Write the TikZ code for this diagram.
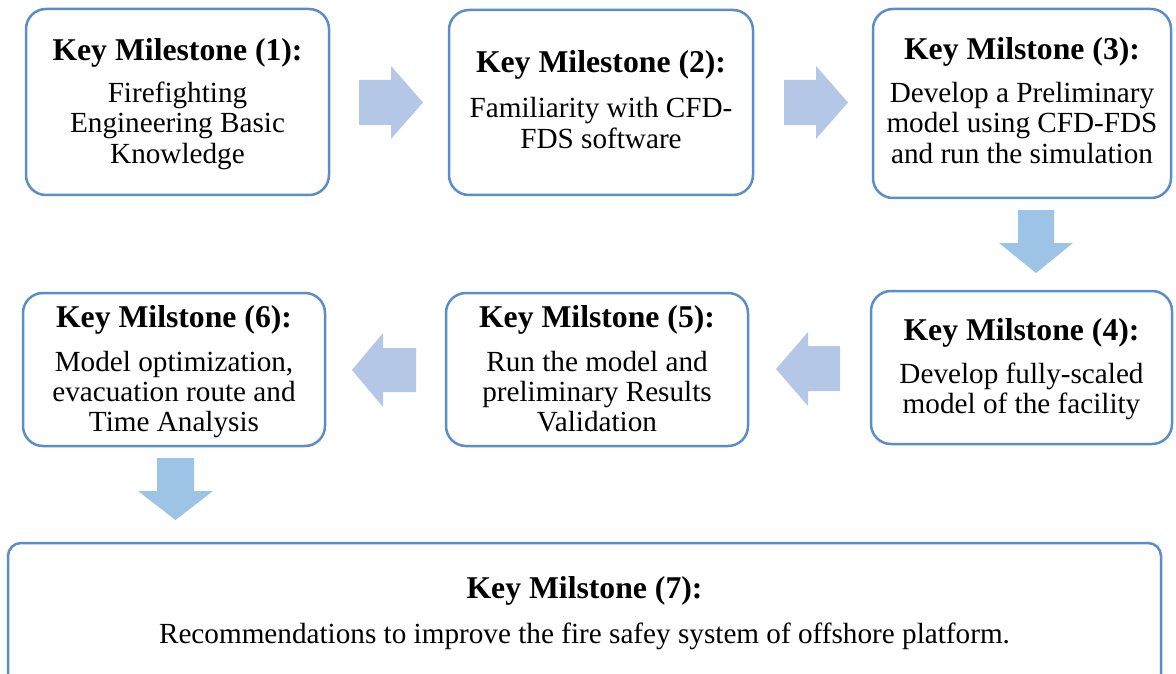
\documentclass[tikz,border=0pt]{standalone}
\usepackage{fontspec}
\setmainfont{Liberation Serif}
\definecolor{boxline}{HTML}{5B8EC9}
\definecolor{harrow}{HTML}{B4C7E7}
\definecolor{varrow}{HTML}{9DC3E6}
\newcommand{\ttl}{\fontsize{31.7}{34}\selectfont\bfseries}
\newcommand{\bdy}{\fontsize{29.2}{31}\selectfont}
\begin{document}
\begin{tikzpicture}[x=1pt,y=-1pt,
  mbox/.style={draw=boxline,line width=2.5pt,rounded corners=20pt,fill=white},
  bigbox/.style={draw=boxline,line width=2.5pt,rounded corners=13pt,fill=white},
  ttlnode/.style={anchor=base,inner sep=0pt,font=\ttl},
  bdynode/.style={anchor=base,inner sep=0pt,font=\bdy},
  harr/.style={fill=harrow,draw=none},
  varr/.style={fill=varrow,draw=none}]
\useasboundingbox (0,0) rectangle (1176,674);
\begin{scope}
\clip (0,0) rectangle (1176,674);
% boxes
\node[mbox,minimum width=303pt,minimum height=186pt] (b1) at (177.5,102) {};
\node[mbox,minimum width=304pt,minimum height=185pt] (b2) at (601,102.5) {};
\node[mbox,minimum width=298pt,minimum height=189pt] (b3) at (1022,103.5) {};
\node[mbox,minimum width=301pt,minimum height=153pt] (b4) at (1021.5,367.5) {};
\node[mbox,minimum width=302pt,minimum height=153pt] (b5) at (597,369.5) {};
\node[mbox,minimum width=302pt,minimum height=153pt] (b6) at (174,369.5) {};
\node[bigbox,minimum width=1153pt,minimum height=150pt] (b7) at (584.5,618) {};
\end{scope}
% texts box 1
\node[ttlnode] (t1) at (177.5,61) {Key Milestone (1):};
\node[bdynode] (l1a) at (177.5,103) {Firefighting};
\node[bdynode] (l1b) at (177.5,133) {Engineering Basic};
\node[bdynode] (l1c) at (177.5,164) {Knowledge};
% box 2
\node[ttlnode] (t2) at (601,73) {Key Milestone (2):};
\node[bdynode] (l2a) at (601,118) {Familiarity with CFD-};
\node[bdynode] (l2b) at (601,149) {FDS software};
% box 3
\node[ttlnode] (t3) at (1022,60) {Key Milstone (3):};
\node[bdynode] (l3a) at (1022,103) {Develop a Preliminary};
\node[bdynode] (l3b) at (1022,133) {model using CFD-FDS};
\node[bdynode] (l3c) at (1022,164) {and run the simulation};
% box 4
\node[ttlnode] (t4) at (1021.5,340) {Key Milstone (4):};
\node[bdynode] (l4a) at (1021.5,383) {Develop fully-scaled};
\node[bdynode] (l4b) at (1021.5,413) {model of the facility};
% box 5
\node[ttlnode] (t5) at (597,327) {Key Milstone (5):};
\node[bdynode] (l5a) at (597,371) {Run the model and};
\node[bdynode] (l5b) at (597,401) {preliminary Results};
\node[bdynode] (l5c) at (597,431) {Validation};
% box 6
\node[ttlnode] (t6) at (174,327) {Key Milstone (6):};
\node[bdynode] (l6a) at (174,371) {Model optimization,};
\node[bdynode] (l6b) at (174,401) {evacuation route and};
\node[bdynode] (l6c) at (174,431) {Time Analysis};
% box 7
\node[ttlnode] (t7) at (584.5,598) {Key Milstone (7):};
\node[bdynode] (l7a) at (584.5,643) {Recommendations to improve the fire safey system of offshore platform.};
% block arrows
\fill[harr] (359,80) -- (391,80) -- (391,66) -- (423,102.5) -- (391,139) -- (391,125) -- (359,125) -- cycle;
\fill[harr] (784,80) -- (816,80) -- (816,66) -- (848,102.5) -- (816,139) -- (816,125) -- (784,125) -- cycle;
\fill[varr] (1018,210) -- (1054,210) -- (1054,243) -- (1073,243) -- (1036,273) -- (999,243) -- (1018,243) -- cycle;
\fill[harr] (840,346) -- (808,346) -- (808,332) -- (776,369) -- (808,406) -- (808,391) -- (840,391) -- cycle;
\fill[harr] (416,348) -- (383,348) -- (383,333) -- (352,370) -- (383,407) -- (383,392) -- (416,392) -- cycle;
\fill[varr] (157,458) -- (194,458) -- (194,491) -- (213,491) -- (175.5,520) -- (138,491) -- (157,491) -- cycle;
\end{tikzpicture}
\end{document}
